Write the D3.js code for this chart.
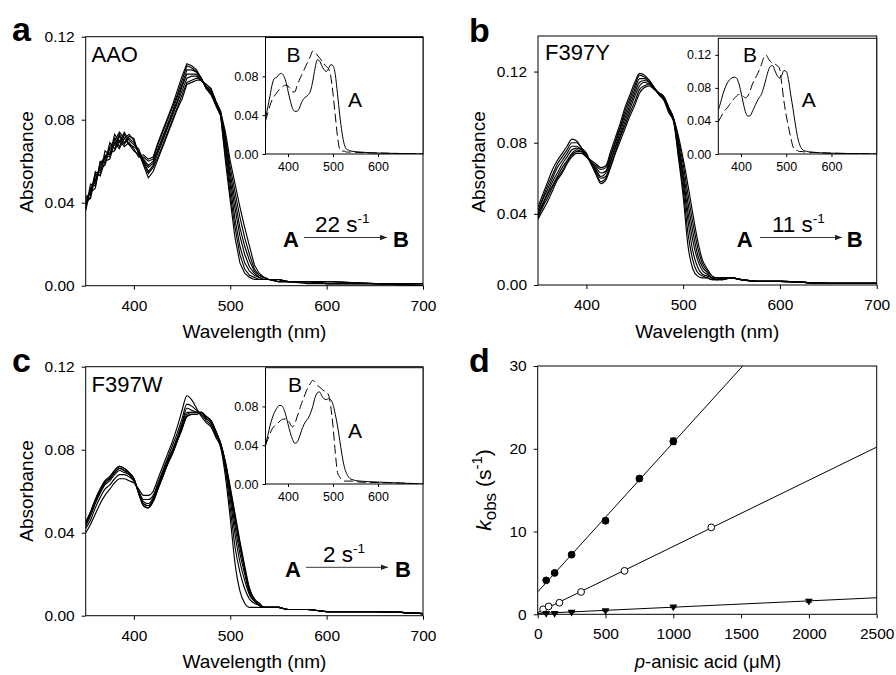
<!DOCTYPE html>
<html>
<head>
<meta charset="utf-8">
<script src="https://cdn.jsdelivr.net/npm/d3@7"></script>
<style>
  body { margin: 0; background: #fff; }
</style>
</head>
<body>
<div id="chart"></div>
<script>
// ---- spectra (absorbance x 1000) ----
const wavelengths = [350,355,360,365,370,375,380,385,390,395,400,405,410,415,420,425,430,435,440,445,450,455,460,465,470,475,480,485,490,495,500,505,510,515,520,525,530,535,540,550,560,580,600,650,700];

const aaoTraces = [
  [40,46,50,58,61,67,70,74,71,73,70,64,58,52,55,61,67,73,79,85,90,97,98,99,99,97,95,89,84,74,60,49,38,28,19,10,6,4,3,3,2,2,2,1,1],
  [43,44,55,53,65,63,73,69,74,70,68,66,59,54,57,62,68,74,80,86,92,98,99,100,99,97,95,89,84,72,57,45,33,23,15,8,5,4,3,2,2,2,1,1,0],
  [37,49,48,60,59,69,66,72,68,72,71,63,60,55,58,64,70,76,82,88,94,100,101,101,99,96,94,88,83,70,54,41,28,19,12,7,5,4,3,3,2,2,2,1,1],
  [41,42,53,55,63,62,71,67,73,68,67,65,60,57,59,65,71,77,83,89,96,102,102,102,99,96,94,88,83,68,51,37,24,15,9,6,4,3,3,2,2,2,1,1,0],
  [36,47,51,57,58,66,68,73,69,71,69,64,61,58,60,66,72,78,84,91,97,104,104,103,100,96,93,88,83,66,48,32,19,11,7,5,4,3,3,3,2,2,2,1,1],
  [42,45,47,59,62,64,65,70,67,69,66,62,62,60,61,68,74,80,86,92,99,106,105,103,100,95,93,87,82,63,44,28,15,8,5,4,3,3,3,2,2,1,1,1,0],
  [39,43,54,53,60,61,69,66,71,68,65,63,63,61,62,69,75,81,87,94,101,107,106,104,100,95,92,87,82,60,41,23,11,6,4,3,3,3,3,3,2,2,1,1,1]
];

const f397yTraces = [
  [44,51,58,65,70,74,78,82,81,77,74,68,62,57,59,66,74,81,88,95,101,108,111,112,110,108,106,100,94,84,71,56,40,25,14,9,5,4,4,4,3,2,2,1,1],
  [42,49,56,62,68,72,76,80,80,77,74,68,63,58,60,67,75,83,90,97,103,110,112,113,110,108,106,100,94,82,68,51,35,21,12,8,5,4,4,4,3,2,2,1,1],
  [41,48,54,60,66,70,74,78,78,76,73,68,64,60,61,69,77,84,92,99,106,112,114,113,111,108,105,99,93,80,64,46,30,17,10,7,4,4,3,4,3,2,2,1,1],
  [40,46,52,58,63,68,72,76,77,76,73,69,65,61,63,70,78,86,94,101,108,114,115,114,111,107,105,99,93,78,61,41,25,14,8,6,4,3,4,4,3,2,2,1,1],
  [39,45,51,56,61,66,70,74,76,75,73,69,66,63,64,72,80,88,96,103,110,116,116,114,111,107,105,98,93,76,58,36,19,10,6,5,4,3,3,4,3,2,2,1,1],
  [38,44,49,55,60,64,69,73,75,75,72,69,67,65,66,73,81,89,98,105,112,118,117,115,111,107,104,98,93,74,54,29,14,7,5,4,3,3,4,4,3,2,2,1,1],
  [37,42,47,53,59,63,68,72,74,74,72,70,68,66,67,75,83,91,100,107,114,119,118,115,111,107,104,97,92,72,50,22,9,5,4,4,3,3,3,4,3,2,2,1,1]
];

const f397wTraces = [
  [45,50,56,61,65,67,70,72,71,69,66,59,53,52,55,61,67,73,78,84,90,96,97,97,98,96,94,89,83,74,62,49,36,24,13,8,6,4,4,4,3,3,2,2,1],
  [45,50,56,61,65,67,70,72,71,69,66,59,53,52,55,61,67,73,78,84,90,96,97,97,98,96,94,89,83,74,61,48,35,23,13,8,6,4,4,4,3,3,2,2,1],
  [45,49,55,60,64,66,69,71,70,69,66,59,54,53,56,62,68,74,79,85,91,97,98,98,98,96,94,89,83,73,60,46,33,22,12,8,5,4,4,4,3,3,2,2,1],
  [44,49,55,60,64,66,69,71,70,68,66,59,54,53,56,62,68,74,79,85,92,98,98,98,98,95,93,88,83,73,59,43,30,20,11,7,5,4,4,4,3,3,2,2,1],
  [43,48,54,59,63,65,68,70,69,68,65,60,55,54,57,63,69,75,80,86,93,100,99,98,97,95,93,88,82,72,56,39,26,17,10,7,5,4,4,4,3,3,2,2,1],
  [42,46,52,57,61,63,66,68,68,67,65,60,56,56,58,64,70,76,82,88,95,102,101,99,97,94,92,87,82,70,52,33,21,13,8,6,5,4,4,4,3,3,2,2,1],
  [40,44,49,54,58,61,64,66,66,65,64,61,58,58,60,66,72,78,84,91,99,106,104,100,96,93,91,86,81,67,47,25,12,6,4,4,4,4,4,4,3,3,2,2,1]
];

// ---- inset species spectra (absorbance x 1000) ----
const insetWavelengths = [350,355,360,365,370,375,380,385,390,395,400,405,410,415,420,425,430,435,440,445,450,455,460,465,470,475,480,485,490,495,500,505,510,515,520,525,530,535,540,560,600,650,700];

const aaoSpeciesA = [37,48,60,72,78,79,82,83,81,75,65,55,47,44,44,47,53,57,59,61,65,75,88,97,96,91,87,85,88,92,91,82,62,40,22,10,5,4,3,2,1,0.5,0];
const aaoSpeciesB = [34,42,50,56,60,63,66,68,70,71,70,67,64,64,70,76,81,86,91,96,101,106,105,102,99,96,93,90,88,80,62,40,18,5,3,3,2,2,2,1.5,1,0.5,0];
const f397ySpeciesA = [53,62,72,80,86,90,92,93,92,86,75,62,51,46,46,51,57,63,68,72,80,90,100,106,107,101,95,92,95,101,100,90,72,55,37,21,11,6,4,2,1,0.5,0];
const f397ySpeciesB = [39,44,49,53,56,60,64,67,70,72,72,70,68,70,76,84,90,95,101,108,116,120,116,112,110,109,107,104,86,64,47,33,20,9,5,4,3,3,2.5,2,1,0.5,0];
const f397wSpeciesA = [40,50,60,68,74,78,81,81,78,71,62,53,46,42,43,48,55,61,65,68,73,80,89,94,95,91,88,87,88,87,82,72,60,45,30,18,11,7,5,3,2,1,0];
const f397wSpeciesB = [40,46,52,57,60,62,64,66,67,67,66,62,59,62,69,76,83,89,95,100,104,107,105,102,100,98,96,95,92,80,60,33,12,7,4,3,3,3,3,2,1.5,1,0];

// ---- panel d: kobs vs p-anisic acid ----
const aaoConc = [62.5, 125, 250, 500, 750, 1000];
const aaoKobs = [4.1, 5.0, 7.2, 11.3, 16.4, 20.9];
const aaoErr = [0.2, 0.2, 0.2, 0.3, 0.3, 0.4];
const aaoFit = [[0, 2.7], [1512, 30]];

const f397yConc = [40, 80, 160, 320, 640, 1280];
const f397yKobs = [0.6, 0.95, 1.4, 2.7, 5.25, 10.5];
const f397yErr = [0.05, 0.05, 0.05, 0.1, 0.1, 0.15];
const f397yFit = [[0, 0.2], [2500, 20.2]];

const f397wConc = [62.5, 125, 250, 500, 1000, 2000];
const f397wKobs = [0.12, 0.12, 0.27, 0.45, 0.9, 1.6];
const f397wErr = [0.05, 0.05, 0.05, 0.05, 0.1, 0.15];
const f397wFit = [[0, 0.1], [2500, 2.0]];

const specXTicks = [400, 500, 600, 700];
const insetXTicks = [400, 500, 600];

const font = '"Liberation Sans", Arial, Helvetica, sans-serif';
const width = 896, height = 675;

const svg = d3.select('#chart').append('svg')
    .attr('width', width)
    .attr('height', height)
    .attr('font-family', font);

const fmt2 = d3.format('.2f');

function axesFrame(g, x, y, b, o) {
    g.append('g')
        .attr('transform', `translate(0,${b.bottom})`)
        .call(d3.axisBottom(x).tickValues(o.xTicks).tickSize(o.size).tickSizeOuter(0)
            .tickPadding(o.padX).tickFormat(o.xFmt || (d => d)))
        .call(s => s.select('.domain').remove())
        .attr('font-size', o.fs).attr('font-family', font);
    g.append('g')
        .attr('transform', `translate(${b.left},0)`)
        .call(d3.axisLeft(y).tickValues(o.yTicks).tickSize(o.size).tickSizeOuter(0)
            .tickPadding(o.padY).tickFormat(o.yFmt || (d => d)))
        .call(s => s.select('.domain').remove())
        .attr('font-size', o.fs).attr('font-family', font);
    g.selectAll('.tick line').attr('stroke', '#000');
    g.append('rect')
        .attr('x', b.left).attr('y', b.top)
        .attr('width', b.right - b.left).attr('height', b.bottom - b.top)
        .attr('fill', 'none').attr('stroke', '#000').attr('stroke-width', 1);
}

function clip(id, b) {
    svg.append('clipPath').attr('id', id).append('rect')
        .attr('x', b.left).attr('y', b.top)
        .attr('width', b.right - b.left).attr('height', b.bottom - b.top);
    return `url(#${id})`;
}

svg.append('defs').append('marker')
    .attr('id', 'arrow').attr('viewBox', '0 0 10 10')
    .attr('refX', 10).attr('refY', 5)
    .attr('markerWidth', 7).attr('markerHeight', 7)
    .attr('markerUnits', 'userSpaceOnUse')
    .attr('orient', 'auto')
    .append('path').attr('d', 'M0,1 L10,5 L0,9 Z').attr('fill', '#222');

function spectrumPanel(p) {
    const g = svg.append('g');
    const b = p.box;
    const x = d3.scaleLinear().domain([350, 700]).range([b.left, b.right]);
    const y = d3.scaleLinear().domain([0, p.yMax]).range([b.bottom, b.top]);

    const line = d3.line()
        .x((d, i) => x(wavelengths[i]))
        .y(d => y(d / 1000))
        .curve(p.curve || d3.curveMonotoneX);

    g.append('g').attr('clip-path', clip('clip-' + p.letter, b))
        .selectAll('path').data(p.traces).join('path')
        .attr('d', line)
        .attr('fill', 'none').attr('stroke', '#000').attr('stroke-width', 1.15);

    axesFrame(g, x, y, b, {xTicks: specXTicks, yTicks: p.yTicks, yFmt: fmt2,
        size: 4, padX: 10, padY: 7, fs: 15.5});

    // inset
    const ib = p.inset.box;
    const ix = d3.scaleLinear().domain([350, 700]).range([ib.left, ib.right]);
    const iy = d3.scaleLinear().domain([0, p.inset.yMax]).range([ib.bottom, ib.top]);
    g.append('rect').attr('x', ib.left).attr('y', ib.top)
        .attr('width', ib.right - ib.left).attr('height', ib.bottom - ib.top).attr('fill', '#fff');
    const iline = d3.line()
        .x((d, i) => ix(insetWavelengths[i]))
        .y(d => iy(d / 1000))
        .curve(d3.curveMonotoneX);
    const ig = g.append('g').attr('clip-path', clip('iclip-' + p.letter, ib));
    ig.append('path').attr('d', iline(p.inset.a))
        .attr('fill', 'none').attr('stroke', '#000').attr('stroke-width', 1);
    ig.append('path').attr('d', iline(p.inset.b))
        .attr('fill', 'none').attr('stroke', '#000').attr('stroke-width', 1)
        .attr('stroke-dasharray', '9,4');
    axesFrame(g, ix, iy, ib, {xTicks: insetXTicks, yTicks: p.inset.yTicks, yFmt: fmt2,
        size: 3, padX: 5, padY: 4, fs: 12.5});
    g.append('text').attr('x', p.inset.Bpos[0]).attr('y', p.inset.Bpos[1])
        .attr('font-size', 21).text('B');
    g.append('text').attr('x', p.inset.Apos[0]).attr('y', p.inset.Apos[1])
        .attr('font-size', 21).text('A');

    // labels
    g.append('text').attr('x', p.letterPos[0]).attr('y', p.letterPos[1])
        .attr('font-size', 34).attr('font-weight', 'bold').text(p.letter);
    g.append('text').attr('x', p.namePos[0]).attr('y', p.namePos[1])
        .attr('font-size', 22).text(p.name);

    const r = p.rate;
    g.append('text').attr('x', r.A[0]).attr('y', r.A[1])
        .attr('font-size', 22).attr('font-weight', 'bold').text('A');
    g.append('text').attr('x', r.B[0]).attr('y', r.B[1])
        .attr('font-size', 22).attr('font-weight', 'bold').text('B');
    g.append('line').attr('x1', r.arrow[0]).attr('x2', r.arrow[1])
        .attr('y1', r.arrow[2]).attr('y2', r.arrow[2])
        .attr('stroke', '#222').attr('stroke-width', 0.9)
        .attr('marker-end', 'url(#arrow)');
    const rt = g.append('text').attr('x', r.label[0]).attr('y', r.label[1]).attr('font-size', 22.5);
    rt.append('tspan').text(r.value + ' s');
    rt.append('tspan').attr('font-size', 13.5).attr('dy', -9).text('-1');

    g.append('text')
        .attr('transform', `translate(${p.yTitle[0]},${p.yTitle[1]}) rotate(-90)`)
        .attr('text-anchor', 'middle').attr('font-size', 19).text('Absorbance');
    g.append('text').attr('x', p.xTitle[0]).attr('y', p.xTitle[1])
        .attr('text-anchor', 'middle').attr('font-size', 19).text('Wavelength (nm)');
}

spectrumPanel({
    letter: 'a', letterPos: [12, 41],
    box: {left: 85.7, right: 423, top: 36.7, bottom: 285.7},
    yMax: 0.12, yTicks: [0, 0.04, 0.08, 0.12],
    traces: aaoTraces, curve: d3.curveLinear,
    name: 'AAO', namePos: [91.5, 61.7],
    rate: {value: '22', A: [283, 246.7], B: [393, 246.7], arrow: [304, 387, 237.5], label: [315, 231.7]},
    inset: {box: {left: 265.5, right: 423, top: 37.5, bottom: 154}, yMax: 0.12, yTicks: [0, 0.04, 0.08],
        a: aaoSpeciesA, b: aaoSpeciesB, Bpos: [286.5, 61.7], Apos: [348, 106.7]},
    yTitle: [33, 162], xTitle: [254.4, 338]
});

spectrumPanel({
    letter: 'b', letterPos: [469, 42],
    box: {left: 538, right: 876.7, top: 36, bottom: 285},
    yMax: 0.14, yTicks: [0, 0.04, 0.08, 0.12],
    traces: f397yTraces,
    name: 'F397Y', namePos: [545, 60],
    rate: {value: '11', A: [736.7, 246.7], B: [846.7, 246.7], arrow: [760, 842, 237.5], label: [772, 231.7]},
    inset: {box: {left: 718.3, right: 876.7, top: 38.3, bottom: 154}, yMax: 0.14, yTicks: [0, 0.04, 0.08, 0.12],
        a: f397ySpeciesA, b: f397ySpeciesB, Bpos: [743, 61.7], Apos: [801.7, 106.7]},
    yTitle: [485, 162], xTitle: [707.3, 338]
});

spectrumPanel({
    letter: 'c', letterPos: [12, 372],
    box: {left: 85.7, right: 423, top: 366.7, bottom: 615.7},
    yMax: 0.12, yTicks: [0, 0.04, 0.08, 0.12],
    traces: f397wTraces,
    name: 'F397W', namePos: [91.5, 391.5],
    rate: {value: '2', A: [285, 576.7], B: [395, 576.7], arrow: [306, 388, 567.3], label: [323, 561.7]},
    inset: {box: {left: 265.5, right: 423, top: 367.7, bottom: 484}, yMax: 0.12, yTicks: [0, 0.04, 0.08],
        a: f397wSpeciesA, b: f397wSpeciesB, Bpos: [288, 391.7], Apos: [348, 438]},
    yTitle: [33, 491], xTitle: [254.4, 668]
});

// ---- panel d ----
(function () {
    const b = {left: 537.7, right: 876.7, top: 366, bottom: 614.3};
    const g = svg.append('g');
    const x = d3.scaleLinear().domain([0, 2500]).range([b.left, b.right]);
    const y = d3.scaleLinear().domain([0, 30]).range([b.bottom, b.top]);

    const series = [
        {conc: aaoConc, k: aaoKobs, err: aaoErr, fit: aaoFit, mark: 'filled'},
        {conc: f397yConc, k: f397yKobs, err: f397yErr, fit: f397yFit, mark: 'open'},
        {conc: f397wConc, k: f397wKobs, err: f397wErr, fit: f397wFit, mark: 'tri'}
    ];

    const cg = g.append('g').attr('clip-path', clip('clip-d', b));
    const fitLine = d3.line().x(d => x(d[0])).y(d => y(d[1]));
    series.forEach(s => {
        cg.append('path').attr('d', fitLine(s.fit))
            .attr('fill', 'none').attr('stroke', '#000').attr('stroke-width', 1);
    });

    series.forEach(s => {
        const pts = s.conc.map((c, i) => ({c, k: s.k[i], e: s.err[i]}));
        const eb = g.append('g').attr('stroke', '#000').attr('stroke-width', 1);
        eb.selectAll('line.v').data(pts).join('line').attr('class', 'v')
            .attr('x1', d => x(d.c)).attr('x2', d => x(d.c))
            .attr('y1', d => y(d.k - d.e)).attr('y2', d => y(d.k + d.e));
        eb.selectAll('line.t').data(pts).join('line').attr('class', 't')
            .attr('x1', d => x(d.c) - 3).attr('x2', d => x(d.c) + 3)
            .attr('y1', d => y(d.k + d.e)).attr('y2', d => y(d.k + d.e));
        eb.selectAll('line.b').data(pts).join('line').attr('class', 'b')
            .attr('x1', d => x(d.c) - 3).attr('x2', d => x(d.c) + 3)
            .attr('y1', d => y(d.k - d.e)).attr('y2', d => y(d.k - d.e));

        if (s.mark === 'tri') {
            g.append('g').selectAll('path').data(pts).join('path')
                .attr('d', d3.symbol(d3.symbolTriangle, 26))
                .attr('transform', d => `translate(${x(d.c)},${y(d.k)}) rotate(180)`)
                .attr('fill', '#000');
        } else {
            g.append('g').selectAll('circle').data(pts).join('circle')
                .attr('cx', d => x(d.c)).attr('cy', d => y(d.k)).attr('r', 3.4)
                .attr('fill', s.mark === 'filled' ? '#000' : '#fff')
                .attr('stroke', '#000').attr('stroke-width', 1);
        }
    });

    axesFrame(g, x, y, b, {xTicks: [0, 500, 1000, 1500, 2000, 2500], yTicks: [0, 10, 20, 30],
        size: 4, padX: 10, padY: 7, fs: 15.5});

    g.append('text').attr('x', 469).attr('y', 372)
        .attr('font-size', 34).attr('font-weight', 'bold').text('d');

    const yl = g.append('text')
        .attr('transform', `translate(491,490) rotate(-90)`)
        .attr('text-anchor', 'middle').attr('font-size', 21);
    yl.append('tspan').attr('font-style', 'italic').text('k');
    yl.append('tspan').attr('font-size', 17).attr('dy', 5).text('obs');
    yl.append('tspan').attr('dy', -5).text(' (s');
    yl.append('tspan').attr('font-size', 15).attr('dy', -9).text('-1');
    yl.append('tspan').attr('dy', 9).text(')');

    const xl = g.append('text').attr('x', 708).attr('y', 668)
        .attr('text-anchor', 'middle').attr('font-size', 18.5);
    xl.append('tspan').attr('font-style', 'italic').text('p');
    xl.append('tspan').text('-anisic acid (μM)');
})();
</script>
</body>
</html>
